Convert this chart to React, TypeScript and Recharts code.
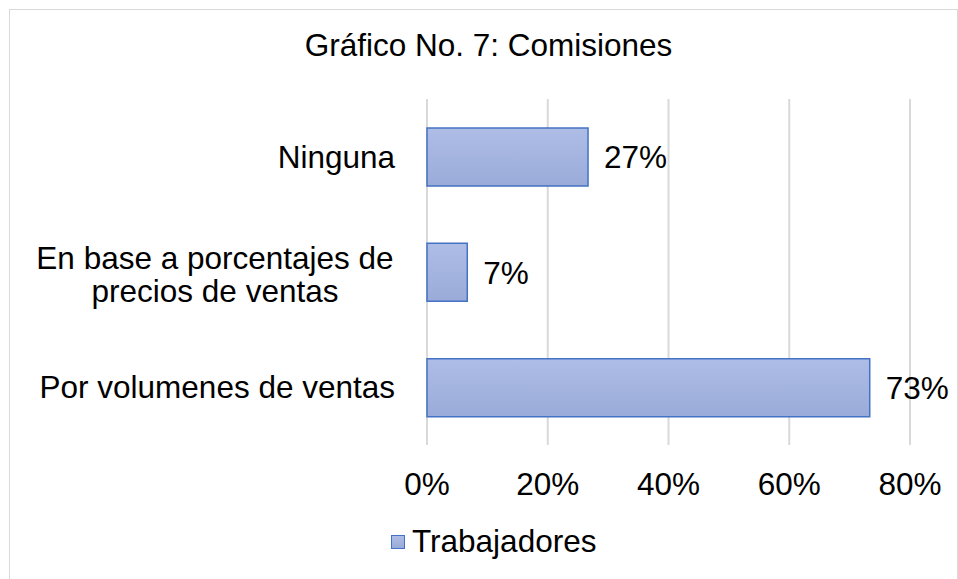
import { BarChart, Bar, XAxis, YAxis, CartesianGrid, Legend, LabelList } from "recharts";

const categories = ["Ninguna", "En base a porcentajes de precios de ventas", "Por volumenes de ventas"];
const categoryLines = [["Ninguna"], ["En base a porcentajes de", "precios de ventas"], ["Por volumenes de ventas"]];
const trabajadores = [26.67, 6.67, 73.33];
const xTicks = [0, 20, 40, 60, 80];
const seriesName = "Trabajadores";
const title = "Gráfico No. 7: Comisiones";

const data = categories.map((name, i) => ({ name, lines: categoryLines[i], value: trabajadores[i] }));

const FONT = "'Liberation Sans', Arial, sans-serif";
const FS = 31.5;

const CategoryTick = (props: any) => {
  const { x, y, payload } = props;
  const lines: string[] = categoryLines[payload.index] || [payload.value];
  if (lines.length === 1) {
    return (
      <text x={x + 2} y={y} dy={11} textAnchor="end" fontSize={FS} fontFamily={FONT} fill="#000">
        {lines[0]}
      </text>
    );
  }
  const cx = x - 178;
  return (
    <text textAnchor="middle" fontSize={FS} fontFamily={FONT} fill="#000">
      <tspan x={cx} y={y - 3}>{lines[0]}</tspan>
      <tspan x={cx} y={y + 30}>{lines[1]}</tspan>
    </text>
  );
};

const ValueTick = (props: any) => {
  const { x, y, payload } = props;
  return (
    <text x={x} y={y} dy={22} textAnchor="middle" fontSize={FS} fontFamily={FONT} fill="#000">
      {`${payload.value}%`}
    </text>
  );
};

const LegendContent = () => (
  <div style={{ display: "flex", alignItems: "center", fontFamily: FONT, fontSize: FS, lineHeight: 1, color: "#000" }}>
    <span
      style={{
        display: "inline-block",
        width: 14,
        height: 14,
        boxSizing: "border-box",
        border: "1.5px solid #4472c4",
        background: "linear-gradient(#aebde6, #9aabd9)",
        marginRight: 7,
      }}
    />
    <span>{seriesName}</span>
  </div>
);

export default function App() {
  return (
    <div
      style={{
        position: "fixed",
        left: 9,
        top: 9,
        width: 949,
        height: 571,
        boxSizing: "border-box",
        border: "1px solid #d9d9d9",
        background: "#fff",
      }}
    >
      <div
        style={{
          position: "absolute",
          left: 5,
          top: 20,
          width: 947,
          textAlign: "center",
          fontFamily: FONT,
          fontSize: FS,
          lineHeight: 1,
          color: "#000",
        }}
      >
        {title}
      </div>
      <BarChart
        width={947}
        height={569}
        data={data}
        layout="vertical"
        margin={{ top: 89, right: 47, left: 0, bottom: 94 }}
      >
        <defs>
          <linearGradient id="barFill" x1="0" y1="0" x2="0" y2="1">
            <stop offset="0%" stopColor="#aebde6" />
            <stop offset="100%" stopColor="#9aabd9" />
          </linearGradient>
        </defs>
        <CartesianGrid horizontal={false} stroke="#d9d9d9" strokeWidth={2} />
        <XAxis
          type="number"
          domain={[0, 80]}
          ticks={xTicks}
          axisLine={false}
          tickLine={false}
          tickSize={0}
          tickMargin={28}
          height={40}
          tick={<ValueTick />}
          interval={0}
        />
        <YAxis
          type="category"
          dataKey="name"
          width={417}
          axisLine={false}
          tickLine={false}
          tickSize={0}
          tickMargin={34}
          tick={<CategoryTick />}
          interval={0}
        />
        <Legend
          verticalAlign="middle"
          layout="horizontal"
          content={<LegendContent />}
          wrapperStyle={{ position: "absolute", left: 381, top: 516, width: "auto" }}
        />
        <Bar
          dataKey="value"
          name={seriesName}
          fill="url(#barFill)"
          stroke="#4472c4"
          strokeWidth={1.5}
          barSize={58}
          isAnimationActive={false}
        >
          <LabelList
            dataKey="value"
            position="right"
            offset={16}
            formatter={(v: any) => `${Math.round(Number(v))}%`}
            fontSize={FS}
            fontFamily={FONT}
            fill="#000"
          />
        </Bar>
      </BarChart>
    </div>
  );
}
